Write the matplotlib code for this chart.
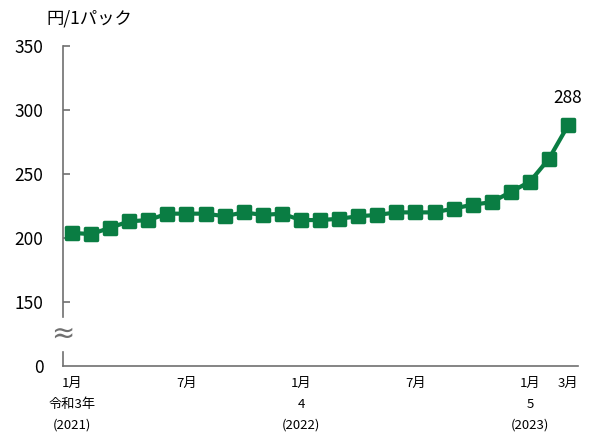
import matplotlib.pyplot as plt
from matplotlib.markers import MarkerStyle

plt.rcParams['font.family'] = ['Noto Sans CJK JP', 'DejaVu Sans']

# Monthly price, Jan 2021 - Mar 2023 (yen per pack)
prices = [204, 203, 208, 213, 214, 219, 219, 219, 217, 220, 218, 219,
          214, 214, 215, 217, 218, 220, 220, 220, 223, 226, 228,
          236, 244, 262, 288]
tick_idx = [0, 6, 12, 18, 24, 26]
tick_labels = ['1月\n令和3年\n(2021)', '7月', '1月\n4\n(2022)', '7月',
               '1月\n5\n(2023)', '3月']
y_ticks = [100, 150, 200, 250, 300, 350]
y_labels = ['0', '150', '200', '250', '300', '350']

green = '#0a7d43'
axis_gray = '#707070'

fig = plt.figure(figsize=(5.9, 4.37), dpi=100)
ax = fig.add_axes([0.1068, 0.1625, 0.8729, 0.7323])

x = list(range(len(prices)))
ax.plot(x, prices, color=green, lw=3,
        marker=MarkerStyle('s', joinstyle='round'), ms=9, mew=2.5,
        mfc=green, mec=green, solid_joinstyle='round', clip_on=False)

ax.set_xlim(-0.47, 26.52)
ax.set_ylim(100, 350)

# spines
for s in ['top', 'right', 'left']:
    ax.spines[s].set_visible(False)
ax.spines['bottom'].set_color(axis_gray)
ax.spines['bottom'].set_linewidth(1.2)

# broken left axis
tr = ax.get_yaxis_transform()
ax.plot([0, 0], [138, 350], color=axis_gray, lw=1.2, transform=tr, clip_on=False)
ax.plot([0, 0], [100, 111], color=axis_gray, lw=1.2, transform=tr, clip_on=False)
ax.text(0, 125, '≈', transform=tr, ha='center', va='center', fontsize=20,
        color=axis_gray, family=['DejaVu Sans'])

ax.set_yticks(y_ticks)
ax.set_yticklabels(y_labels)
ax.tick_params(axis='y', direction='in', length=5, width=1.2, color=axis_gray,
               labelsize=12.5, pad=14)
ax.yaxis.get_major_ticks()[0].tick1line.set_visible(False)

ax.set_xticks(tick_idx)
ax.set_xticklabels(tick_labels)
ax.tick_params(axis='x', length=0, labelsize=9.5, pad=8)
plt.setp(ax.get_xticklabels(), linespacing=1.75)

ax.text(-0.032, 1.085, '円/1パック', transform=ax.transAxes, fontsize=12.5,
        ha='left', va='center')

ax.annotate(str(prices[-1]), (26, prices[-1]), xytext=(0, 20),
            textcoords='offset points', ha='center', va='center', fontsize=12.5)

fig.savefig('out.png', dpi=100)
